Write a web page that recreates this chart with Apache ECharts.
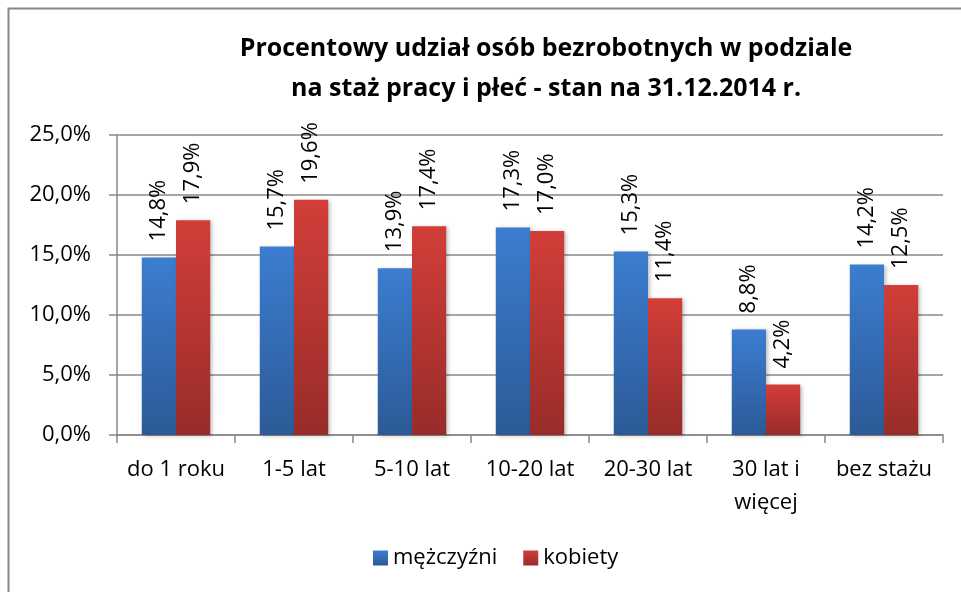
<!DOCTYPE html>
<html lang="pl">
<head>
    <meta charset="UTF-8">
    <title>Procentowy udział osób bezrobotnych</title>
</head>
<body style="margin:0;background:#fff;">
<div style="width: 961px;height: 592px;" id="chart"></div>
<script src="https://cdnjs.cloudflare.com/ajax/libs/echarts/6.0.0/echarts.min.js"></script>
<script type="text/javascript">
  // kategorie stażu pracy
  let categories = ['do 1 roku', '1-5 lat', '5-10 lat', '10-20 lat', '20-30 lat', '30 lat i\nwięcej', 'bez stażu'];
  // udział w % wg płci
  let men = [14.8, 15.7, 13.9, 17.3, 15.3, 8.8, 14.2];
  let women = [17.9, 19.6, 17.4, 17.0, 11.4, 4.2, 12.5];
  let yTicks = [0, 5, 10, 15, 20, 25];

  const font = 'Open Sans';
  const fmt = v => v.toFixed(1).replace('.', ',') + '%';

  function grad(top, bottom) {
    return new echarts.graphic.LinearGradient(0, 0, 0, 1, [
      {offset: 0, color: top},
      {offset: 1, color: bottom},
    ]);
  }

  function barSeries(name, data, top, bottom) {
    return {
      name: name,
      type: 'bar',
      data: data,
      barGap: '0%',
      barCategoryGap: '42%',
      itemStyle: {
        color: grad(top, bottom),
        shadowColor: 'rgba(0,0,0,0.25)',
        shadowBlur: 4,
        shadowOffsetX: 2,
        shadowOffsetY: 1,
      },
      label: {
        show: true,
        position: 'top',
        rotate: 90,
        align: 'left',
        verticalAlign: 'middle',
        distance: 16,
        color: '#000',
        fontFamily: font,
        fontSize: 22,
        formatter: p => fmt(p.value),
      },
    };
  }

  let option = {
    animation: false,
    backgroundColor: '#fff',
    title: {
      text: 'Procentowy udział osób bezrobotnych w podziale\nna staż pracy i płeć - stan na 31.12.2014 r.',
      left: 541,
      top: 24,
      textAlign: 'center',
      textStyle: {
        fontFamily: font,
        fontWeight: 'bold',
        fontSize: 25,
        lineHeight: 40,
        color: '#000',
      },
    },
    legend: {
      left: 368,
      top: 542,
      icon: 'rect',
      itemWidth: 15,
      itemHeight: 15,
      itemGap: 26,
      textStyle: {fontFamily: font, fontSize: 22, color: '#000'},
      data: ['mężczyźni', 'kobiety'],
    },
    grid: {left: 117, right: 18, top: 135, bottom: 157},
    xAxis: {
      type: 'category',
      data: categories,
      axisLine: {lineStyle: {color: '#888', width: 1.5}},
      axisTick: {show: true, length: 8, lineStyle: {color: '#888', width: 1.5}},
      axisLabel: {
        margin: 18,
        color: '#000',
        fontFamily: font,
        fontSize: 22,
        lineHeight: 33,
        interval: 0,
      },
    },
    yAxis: {
      type: 'value',
      min: yTicks[0],
      max: yTicks[yTicks.length - 1],
      interval: 5,
      axisLine: {show: true, lineStyle: {color: '#888', width: 1.5}},
      axisTick: {show: true, length: 8, lineStyle: {color: '#888', width: 1.5}},
      splitLine: {lineStyle: {color: '#888', width: 1.5}},
      axisLabel: {
        margin: 26,
        color: '#000',
        fontFamily: font,
        fontSize: 22,
        formatter: v => fmt(v),
      },
    },
    graphic: [{
      type: 'rect',
      shape: {x: 8.5, y: 8.5, width: 1200, height: 1200},
      style: {fill: null, stroke: '#888', lineWidth: 2},
      silent: true,
    }],
    series: [
      barSeries('mężczyźni', men, '#3c7dd0', '#2c5a97'),
      barSeries('kobiety', women, '#d23e39', '#982c29'),
    ],
  };

  let instance = echarts.init(document.getElementById('chart'));
  instance.setOption(option);
</script>
</body>
</html>
